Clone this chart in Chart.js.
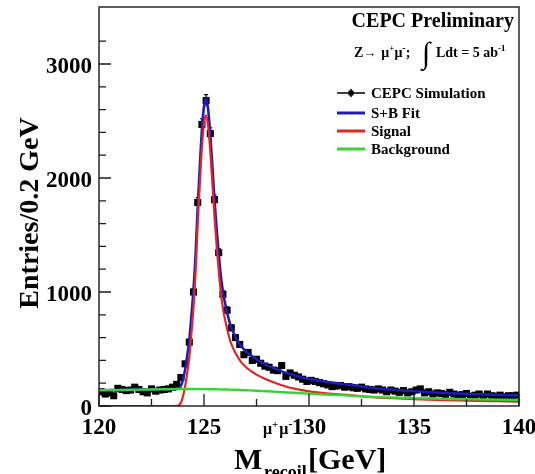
<!DOCTYPE html>
<html>
<head>
<meta charset="utf-8">
<script src="https://cdn.jsdelivr.net/npm/chart.js@4.4.1/dist/chart.umd.min.js"></script>
<style>
  html, body { margin: 0; padding: 0; background: #ffffff; }
  #c { display: block; }
</style>
</head>
<body>
<canvas id="c" width="535" height="474"></canvas>
<script>
// Recoil-mass histogram: 100 bins of 0.2 GeV from 120 to 140 GeV
const binLow = 120;
const binWidth = 0.2;
const entries = [
  125, 105, 115,  90, 155, 145, 135, 140, 165, 145,
  125, 115, 150, 130, 140, 145, 150, 165, 190, 250,
  370, 560, 1000, 1785, 2470, 2680, 2390, 1810, 1345, 980,
  840, 685, 600, 540, 450, 470, 400, 410, 375, 350,
  340, 315, 310, 355, 260, 290, 270, 255, 235, 215,
  225, 215, 205, 195, 185, 170, 175, 180, 165, 170,
  160, 155, 165, 150, 145, 140, 150, 140, 125, 140,
  130, 120, 135, 115, 125, 140, 150, 115, 125, 105,
  115, 110, 100, 120, 105,  95, 100, 110,  85,  95,
  105,  85, 105,  90,  85,  95,  80,  90,  90,  95
];

// Fitted curves, sampled along the recoil mass (GeV)
const curveMass = [
  120, 121, 122, 123, 123.5, 123.7, 123.8, 123.9, 124.0, 124.1,
  124.2, 124.3, 124.4, 124.5, 124.6, 124.7, 124.8, 124.9, 125.0, 125.1,
  125.2, 125.3, 125.4, 125.5, 125.6, 125.7, 125.8, 125.9, 126.0, 126.25,
  126.5, 126.75, 127, 127.5, 128, 128.5, 129, 129.5, 130, 131,
  132, 133, 134, 135, 136, 137, 138, 139, 140
];
const fitSignal = [
  0, 0, 0, 0, 0, 1, 6, 28, 85, 170,
  290, 430, 640, 870, 1180, 1600, 1950, 2270, 2480, 2550,
  2450, 2230, 1950, 1660, 1410, 1190, 1000, 860, 760, 570,
  465, 390, 340, 275, 230, 195, 165, 145, 128, 108,
  94, 78, 68, 60, 54, 49, 45, 42, 39
];
const fitBackground = [
  138, 141, 144, 147, 148, 149, 149, 149, 149, 149,
  149, 149, 149, 149, 148, 148, 148, 148, 148, 148,
  148, 147, 147, 147, 147, 146, 146, 145, 145, 144,
  142, 140, 138, 134, 129, 124, 119, 114, 109, 99,
  91, 80, 74, 69, 65, 61, 58, 56, 54
];
const fitTotal = [
  138, 141, 144, 147, 148, 150, 155, 177, 234, 319,
  439, 579, 789, 1019, 1328, 1748, 2098, 2418, 2628, 2698,
  2598, 2377, 2097, 1807, 1557, 1336, 1146, 1005, 905, 714,
  607, 530, 478, 409, 359, 319, 284, 259, 237, 207,
  185, 158, 142, 129, 119, 110, 103, 98, 93
];

// Axis labels
const xLabelValues = [120, 125, 130, 135, 140];
const yLabelValues = [0, 1000, 2000, 3000];

const seriesNames = ['CEPC Simulation', 'S+B Fit', 'Signal', 'Background'];
const colTotal = '#1c1cb8';
const colSignal = '#e42424';
const colBackground = '#33d433';

const FONT = '"Liberation Serif", "Times New Roman", serif';
Chart.defaults.font.family = FONT;
Chart.defaults.color = '#000';

function pairs(xs, ys) { return xs.map((x, i) => ({ x: x, y: ys[i] })); }

const histPoints = entries.map((n, i) => ({ x: binLow + binWidth * (i + 0.5), y: n }));

function text(ctx, s, x, y, size, bold, align) {
  ctx.font = (bold ? 'bold ' : '') + size + 'px ' + FONT;
  ctx.textAlign = align || 'left';
  ctx.textBaseline = 'alphabetic';
  ctx.fillText(s, x, y);
  return ctx.measureText(s).width;
}

// Poisson error bars on the histogram points
const errorBars = {
  id: 'errorBars',
  afterDatasetDraw(chart, args) {
    if (args.index !== 0) return;
    const ctx = chart.ctx, ys = chart.scales.y, xs = chart.scales.x;
    ctx.save();
    ctx.strokeStyle = '#000';
    ctx.lineWidth = 1.2;
    histPoints.forEach(p => {
      const e = Math.sqrt(p.y);
      const px = xs.getPixelForValue(p.x);
      const top = ys.getPixelForValue(p.y + e), bot = ys.getPixelForValue(p.y - e);
      ctx.beginPath();
      ctx.moveTo(px, top); ctx.lineTo(px, bot);
      ctx.moveTo(px - 2, top); ctx.lineTo(px + 2, top);
      ctx.stroke();
    });
    ctx.restore();
  }
};

// Frame, inward ticks, titles, legend and labels
const decorations = {
  id: 'decorations',
  afterDraw(chart) {
    const ctx = chart.ctx, ca = chart.chartArea;
    const xs = chart.scales.x, ys = chart.scales.y;
    ctx.save();
    ctx.fillStyle = '#000';
    ctx.strokeStyle = '#1a1a1a';

    // ticks pointing into the plot
    ctx.lineWidth = 1.3;
    ctx.beginPath();
    xs.ticks.forEach(t => {
      const px = xs.getPixelForValue(t.value);
      const len = xLabelValues.includes(t.value) ? 12 : 7;
      ctx.moveTo(px, ca.bottom); ctx.lineTo(px, ca.bottom - len);
    });
    ys.ticks.forEach(t => {
      if (t.value % 200 !== 0) return;
      const py = ys.getPixelForValue(t.value);
      const len = yLabelValues.includes(t.value) ? 12 : 7;
      ctx.moveTo(ca.left, py); ctx.lineTo(ca.left + len, py);
    });
    ctx.stroke();

    // frame
    ctx.lineWidth = 1.4;
    ctx.strokeRect(ca.left, ca.top, ca.right - ca.left, ca.bottom - ca.top);

    // y title
    ctx.save();
    ctx.translate(38, 213);
    ctx.rotate(-Math.PI / 2);
    text(ctx, 'Entries/0.2 GeV', 0, 0, 28, true, 'center');
    ctx.restore();

    // x title: M with superscript mu+mu- and subscript recoil
    text(ctx, 'M', 234, 469, 30, true);
    let sx = 263;
    sx += text(ctx, 'μ', sx, 434, 16, true);
    sx += text(ctx, '+', sx, 428, 11, true) + 1;
    sx += text(ctx, 'μ', sx, 434, 16, true);
    text(ctx, '-', sx, 428, 12, true);
    text(ctx, 'recoil', 264, 478, 18, true);
    text(ctx, '[GeV]', 308, 469, 30, true);

    // header
    text(ctx, 'CEPC Preliminary', 514, 27, 20, true, 'right');
    let hx = 354;
    hx += text(ctx, 'Z', hx, 57, 14, true);
    hx += text(ctx, '→', hx, 57, 13, true) + 5;
    hx += text(ctx, 'μ', hx, 57, 14, true);
    hx += text(ctx, '+', hx, 51, 9, true);
    hx += text(ctx, 'μ', hx, 57, 14, true);
    hx += text(ctx, '-', hx, 51, 10, true);
    text(ctx, ';', hx, 57, 14, true);
    text(ctx, '∫', 422, 63, 30, false);
    let lx = 436;
    lx += text(ctx, 'Ldt = 5 ab', lx, 57, 14, true);
    text(ctx, '-1', lx, 51, 9, true);

    // legend
    const rows = [93, 113, 131, 149];
    const lx0 = 337, lx1 = 365;
    ctx.lineWidth = 1.5;
    ctx.strokeStyle = '#000';
    ctx.beginPath();
    ctx.moveTo(lx0, rows[0]); ctx.lineTo(lx1, rows[0]);
    ctx.moveTo(351, rows[0] - 4); ctx.lineTo(351, rows[0] + 4);
    ctx.stroke();
    ctx.fillRect(348.5, rows[0] - 2.5, 5, 5);
    [colTotal, colSignal, colBackground].forEach((c, i) => {
      ctx.strokeStyle = c;
      ctx.lineWidth = 3;
      ctx.beginPath();
      ctx.moveTo(lx0, rows[i + 1]); ctx.lineTo(lx1, rows[i + 1]);
      ctx.stroke();
    });
    ctx.fillStyle = '#000';
    seriesNames.forEach((n, i) => text(ctx, n, 371, rows[i] + 5, 15, true));

    ctx.restore();
  }
};

new Chart(document.getElementById('c'), {
  type: 'scatter',
  data: {
    datasets: [
      {
        label: seriesNames[0],
        data: histPoints,
        pointStyle: 'rect',
        pointRadius: 5,
        pointHoverRadius: 5,
        backgroundColor: '#000',
        borderWidth: 0,
        showLine: false,
        order: 4
      },
      {
        label: seriesNames[1],
        type: 'line',
        data: pairs(curveMass, fitTotal),
        borderColor: colTotal,
        borderWidth: 2.6,
        pointRadius: 0,
        cubicInterpolationMode: 'monotone',
        fill: false,
        order: 3
      },
      {
        label: seriesNames[2],
        type: 'line',
        data: pairs(curveMass, fitSignal),
        borderColor: colSignal,
        borderWidth: 2.2,
        pointRadius: 0,
        cubicInterpolationMode: 'monotone',
        fill: false,
        order: 2
      },
      {
        label: seriesNames[3],
        type: 'line',
        data: pairs(curveMass, fitBackground),
        borderColor: colBackground,
        borderWidth: 2.4,
        pointRadius: 0,
        cubicInterpolationMode: 'monotone',
        fill: false,
        order: 1
      }
    ]
  },
  options: {
    responsive: false,
    animation: false,
    devicePixelRatio: 1,
    layout: { padding: { left: 0, right: 16, top: 7, bottom: 0 } },
    plugins: { legend: { display: false }, tooltip: { enabled: false } },
    scales: {
      x: {
        type: 'linear',
        min: 120,
        max: 140,
        grid: { display: false, drawTicks: false },
        border: { display: false },
        ticks: {
          stepSize: 2.5,
          autoSkip: false,
          maxRotation: 0,
          padding: 8,
          font: { size: 23, weight: 'bold' },
          callback: v => (xLabelValues.includes(v) ? String(v) : '')
        },
        afterFit: s => { s.height = 68; s.paddingLeft = 0; s.paddingRight = 0; }
      },
      y: {
        type: 'linear',
        min: 0,
        max: 3500,
        grid: { display: false, drawTicks: false },
        border: { display: false },
        ticks: {
          stepSize: 200,
          autoSkip: false,
          padding: 7,
          labelOffset: 3,
          font: { size: 23, weight: 'bold' },
          callback: v => (yLabelValues.includes(v) ? String(v) : '')
        },
        afterFit: s => { s.width = 99; s.paddingTop = 0; s.paddingBottom = 0; }
      }
    }
  },
  plugins: [errorBars, decorations]
});
</script>
</body>
</html>
